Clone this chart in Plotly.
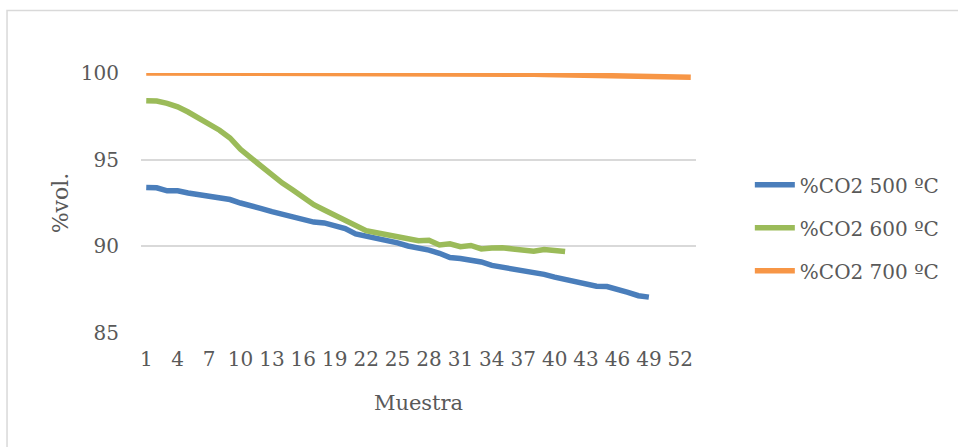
import plotly.graph_objects as go

# Sample index (Muestra) and CO2 concentration series, %vol.
muestra = list(range(1, 54))

co2_500 = [93.40, 93.38, 93.20, 93.20, 93.08, 92.98, 92.85, 92.78, 92.70, 92.50,
           92.38, 92.18, 92.00, 91.85, 91.75, 91.60, 91.40, 91.35, 91.15, 91.02,
           90.72, 90.60, 90.48, 90.38, 90.20, 90.02, 89.92, 89.78, 89.60, 89.35,
           89.30, 89.20, 89.10, 88.90, 88.80, 88.68, 88.62, 88.45, 88.38, 88.22,
           88.10, 87.98, 87.88, 87.70, 87.68, 87.55, 87.35, 87.15, 87.07]

co2_600 = [98.40, 98.38, 98.25, 98.05, 97.75, 97.40, 97.05, 96.70, 96.25, 95.60,
           95.10, 94.60, 94.05, 93.65, 93.25, 92.80, 92.40, 92.10, 91.80, 91.45,
           91.20, 90.90, 90.78, 90.65, 90.52, 90.43, 90.32, 90.35, 90.08, 90.15,
           89.98, 90.05, 89.85, 89.90, 89.92, 89.85, 89.80, 89.72, 89.82, 89.75,
           89.70]

co2_700 = [100.00, 100.00, 100.00, 100.00, 100.00, 100.00, 100.00, 100.00, 100.00, 100.00,
           100.00, 100.00, 100.00, 100.00, 100.00, 100.00, 100.00, 100.00, 100.00, 99.99,
           99.99, 99.99, 99.98, 99.98, 99.98, 99.98, 99.98, 99.98, 99.97, 99.97,
           99.97, 99.96, 99.96, 99.95, 99.95, 99.94, 99.94, 99.93, 99.92, 99.91,
           99.90, 99.89, 99.88, 99.87, 99.86, 99.85, 99.84, 99.83, 99.82, 99.80,
           99.79, 99.77, 99.75]

series = [
    ("%CO2 500 ºC", co2_500, "#4A7EBB"),
    ("%CO2 600 ºC", co2_600, "#9BBB59"),
    ("%CO2 700 ºC", co2_700, "#F79646"),
]

x_ticks = list(range(1, 54, 3))
y_ticks = [85, 90, 95, 100]

FONT = "DejaVu Serif"
TEXT = "#595959"

fig = go.Figure()
for i, (name, vals, color) in enumerate(series):
    fig.add_trace(go.Scatter(
        x=muestra[:len(vals)], y=vals, name=name, mode="lines",
        line=dict(color=color, width=5.5),
        legendgroup=f"g{i}",
    ))

fig.update_layout(
    width=958, height=447,
    margin=dict(l=141, r=262, t=73, b=114),
    paper_bgcolor="white", plot_bgcolor="white",
    font=dict(family=FONT, size=20, color=TEXT),
    showlegend=True,
    legend=dict(
        x=1.097, y=0.405, xanchor="left", yanchor="middle",
        font=dict(family=FONT, size=20, color=TEXT),
        tracegroupgap=14, traceorder="grouped",
        itemwidth=40, bgcolor="rgba(0,0,0,0)",
    ),
    xaxis=dict(
        range=[0.5, 53.5], tickmode="array", tickvals=x_ticks,
        ticktext=[str(v) for v in x_ticks],
        showgrid=False, zeroline=False, showline=False, ticks="",
        ticklabelstandoff=12,
        tickfont=dict(family=FONT, size=20, color=TEXT),
        title=dict(text="Muestra", font=dict(family=FONT, size=21, color=TEXT),
                   standoff=25),
    ),
    yaxis=dict(
        range=[85, 100], tickmode="array", tickvals=y_ticks,
        showgrid=True, gridcolor="#D9D9D9", gridwidth=1.5,
        zeroline=False, showline=False, ticks="",
        ticklabelstandoff=21,
        tickfont=dict(family=FONT, size=20, color=TEXT),
        title=dict(text="%vol.", font=dict(family=FONT, size=22, color=TEXT),
                   standoff=6),
    ),
    shapes=[dict(
        type="rect", xref="paper", yref="paper",
        x0=-0.2414, x1=1.48, y0=-0.46, y1=1.2404,
        line=dict(color="#D9D9D9", width=1.5), fillcolor="rgba(0,0,0,0)",
        layer="below",
    )],
)

fig.write_html("out.html")
